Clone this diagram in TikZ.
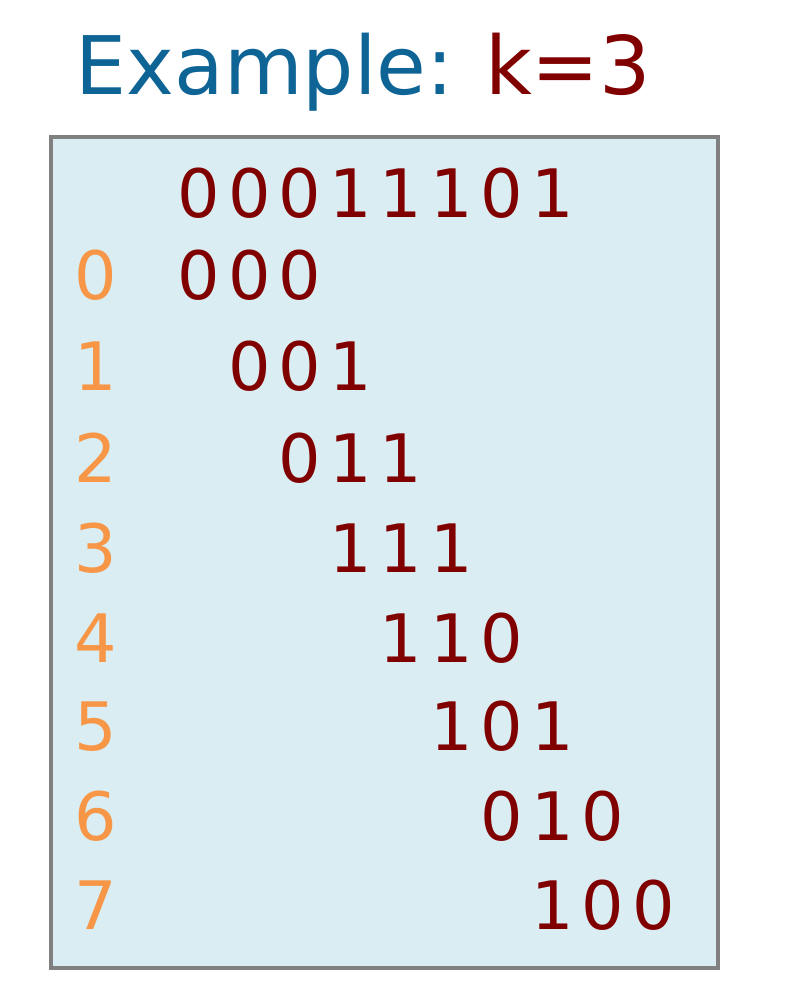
\documentclass[tikz,border=0pt]{standalone}
\usepackage{fontspec}
\setmainfont{DejaVu Sans}
\usetikzlibrary{positioning}
\definecolor{titleblue}{HTML}{0F6496}
\definecolor{bitred}{HTML}{800000}
\definecolor{idxorange}{HTML}{F79646}
\definecolor{boxfill}{HTML}{DAEDF2}
\tikzset{
  bit/.style={anchor=base,text=bitred,font=\fontsize{19}{24}\selectfont,inner sep=0pt},
  idx/.style={anchor=base west,text=idxorange,font=\fontsize{19}{24}\selectfont,inner sep=0pt}
}
\begin{document}
\begin{tikzpicture}
\useasboundingbox (0,0) rectangle (7.87,9.96);
% box
\draw[fill=boxfill,draw=gray,line width=1.2pt] (0.51,0.28) rectangle (7.18,8.59);
% title
\node[anchor=base west,inner sep=0pt,text=titleblue,font=\fontsize{23}{28}\selectfont] (title) at (0.75,9.01) {Example:};
\node[inner sep=0pt,text=bitred,font=\fontsize{23}{28}\selectfont,right=0.3 of title.base east,anchor=base west] (k) {k=3};
% the sequence
\foreach \b [count=\j from 0] in {0,0,0,1,1,1,0,1}
  \node[bit] (s\j) at (1.99+0.505*\j,7.78) {\b};
% windows
\foreach \r/\bits/\y in {0/{0,0,0}/6.96,1/{0,0,1}/6.05,2/{0,1,1}/5.13,3/{1,1,1}/4.23,
                         4/{1,1,0}/3.33,5/{1,0,1}/2.45,6/{0,1,0}/1.55,7/{1,0,0}/0.66}{
  \node[idx] (i\r) at (0.74,\y) {\r};
  \foreach \b [count=\j from 0] in \bits
    \node[bit] (w\r\j) at (1.99+0.505*\r+0.505*\j,\y) {\b};
}
\end{tikzpicture}
\end{document}
